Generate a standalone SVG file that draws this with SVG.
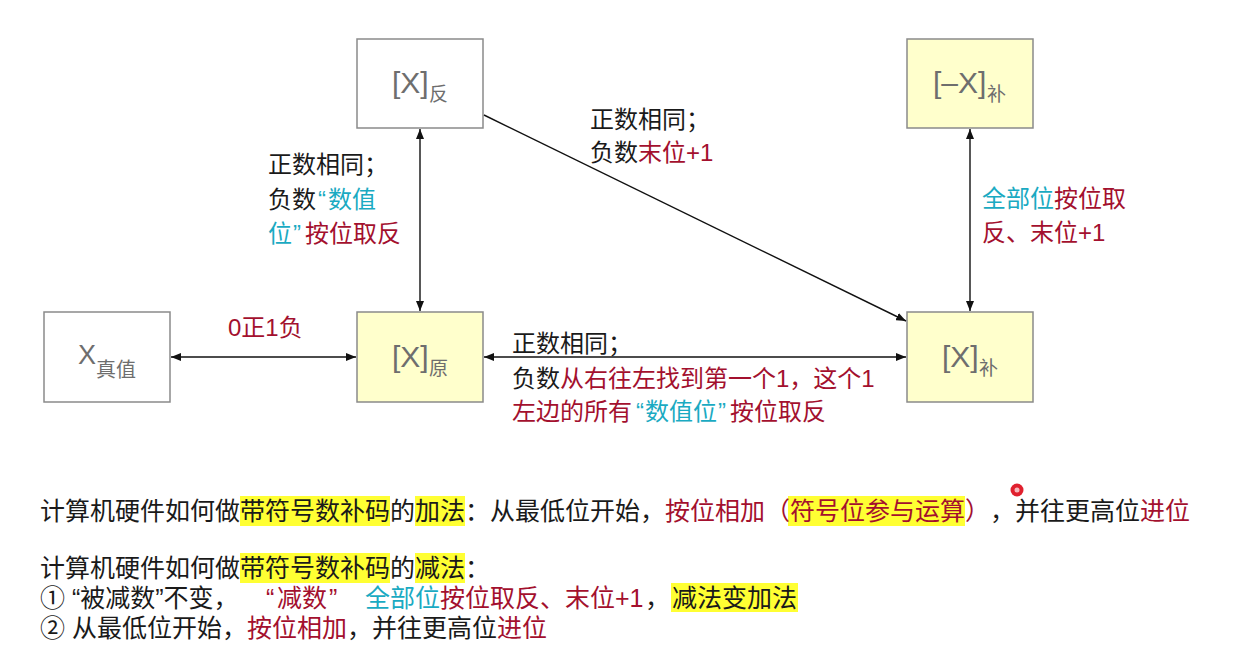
<svg xmlns="http://www.w3.org/2000/svg" width="1256" height="657" viewBox="0 0 1256 657">
<style>
.box{stroke:#8a8a8a;stroke-width:1.5}
.w{fill:#ffffff}
.y{fill:#ffffcc}
.bt{font-family:"Liberation Sans",Arial,sans-serif;font-size:30px;fill:#6e6e6e}
.sub{font-family:"Noto Sans CJK SC",sans-serif;font-size:19px;fill:#6e6e6e}
.lb{font-family:"Liberation Sans","Noto Sans CJK SC",sans-serif;font-size:24px;fill:#1a1a1a}
.tx{font-family:"Liberation Sans","Noto Sans CJK SC",sans-serif;font-size:25px;fill:#1a1a1a}
.cjk{font-family:"Noto Sans CJK SC",sans-serif}
.r{fill:#a3102e}
.c{fill:#1aaac2}
.hl{fill:#ffff33}
.ln{stroke:#111;stroke-width:1.4;fill:none}
</style>
<defs>
<marker id="ah" viewBox="0 0 10 8" refX="10" refY="4" markerWidth="10" markerHeight="8" markerUnits="userSpaceOnUse" orient="auto-start-reverse">
<path d="M0,0 L10,4 L0,8 z" fill="#111"/>
</marker>
</defs>
<rect width="1256" height="657" fill="#ffffff"/>

<g id="node-fan">
<rect class="box w" x="357" y="39" width="126" height="89"/>
<text class="bt" x="392" y="93">[X]</text><text class="sub" x="429" y="101">反</text>
</g>
<g id="node-negbu">
<rect class="box y" x="907" y="39" width="126" height="89"/>
<text class="bt" x="933" y="93">[–X]</text><text class="sub" x="987" y="101">补</text>
</g>
<g id="node-zhenzhi">
<rect class="box w" x="44" y="312" width="126" height="90"/>
<text class="bt" x="78" y="364" style="font-size:27px">X</text><text class="sub" x="96" y="377" style="font-size:20px">真值</text>
</g>
<g id="node-yuan">
<rect class="box y" x="357" y="312" width="126" height="90"/>
<text class="bt" x="392" y="367">[X]</text><text class="sub" x="429" y="375">原</text>
</g>
<g id="node-bu">
<rect class="box y" x="907" y="312" width="126" height="90"/>
<text class="bt" x="942" y="367">[X]</text><text class="sub" x="979" y="375">补</text>
</g>

<g id="connectors">
<path class="ln" d="M420,129 L420,311" marker-start="url(#ah)" marker-end="url(#ah)"/>
<path class="ln" d="M171,357 L356,357" marker-start="url(#ah)" marker-end="url(#ah)"/>
<path class="ln" d="M484,357 L906,357" marker-start="url(#ah)" marker-end="url(#ah)"/>
<path class="ln" d="M484,115 L906,321" marker-end="url(#ah)"/>
<path class="ln" d="M970,129 L970,311" marker-start="url(#ah)" marker-end="url(#ah)"/>
</g>

<g id="labels">
<text class="lb" x="268" y="173">正数相同；</text>
<text class="lb" y="208"><tspan x="268">负数</tspan><tspan class="c" x="318">“</tspan><tspan class="c" x="328">数值</tspan></text>
<text class="lb" y="242"><tspan class="c" x="268">位</tspan><tspan class="c" x="293">”</tspan><tspan class="r" x="305">按位取反</tspan></text>

<text class="lb" x="590" y="128">正数相同；</text>
<text class="lb" x="590" y="161">负数<tspan class="r">末位+1</tspan></text>

<text class="lb" x="982" y="207"><tspan class="c">全部位</tspan><tspan class="r">按位取</tspan></text>
<text class="lb r" x="982" y="241">反、末位+1</text>

<text class="lb r" x="228" y="336">0正1负</text>

<text class="lb" x="512" y="352">正数相同；</text>
<text class="lb" x="512" y="387">负数<tspan class="r">从右往左找到第一个1，这个1</tspan></text>
<text class="lb r" y="420"><tspan x="512">左边的所有</tspan><tspan class="c" x="636">“</tspan><tspan class="c" x="645">数值位</tspan><tspan class="c" x="718">”</tspan><tspan x="730">按位取反</tspan></text>
</g>

<g id="notes">
<rect class="hl" x="240" y="496" width="150" height="30"/>
<rect class="hl" x="415" y="496" width="50" height="30"/>
<rect class="hl" x="788" y="496" width="177" height="30"/>
<text class="tx" y="520"><tspan x="40">计算机硬件如何做带符号数补码的加法：从最低位开始，</tspan><tspan class="r" x="665">按位相加（</tspan><tspan class="r" x="790">符号位参与运算</tspan><tspan class="r cjk" x="965">）</tspan><tspan class="cjk" x="990">，</tspan><tspan x="1015">并往更高位</tspan><tspan class="r" x="1140">进位</tspan></text>

<rect class="hl" x="240" y="553" width="150" height="30"/>
<rect class="hl" x="415" y="553" width="50" height="30"/>
<text class="tx" x="40" y="577">计算机硬件如何做带符号数补码的减法：</text>

<rect class="hl" x="671" y="583" width="127" height="29"/>
<text class="tx" x="40" y="607">① “被减数”不变，</text>
<text class="tx r" y="607"><tspan x="266">“</tspan><tspan x="277">减数</tspan><tspan x="329">”</tspan></text>
<text class="tx c" x="365" y="607">全部位</text>
<text class="tx r" x="440" y="607">按位取反、末位+1</text>
<text class="tx" x="645" y="607">，</text>
<text class="tx" x="672" y="607">减法变加法</text>

<text class="tx" x="40" y="637">② 从最低位开始，<tspan class="r">按位相加</tspan>，并往更高位<tspan class="r">进位</tspan></text>
<circle cx="1017" cy="490" r="6.5" fill="#e0202e"/>
<circle cx="1017" cy="490" r="2.5" fill="#f6b8bc"/>
</g>
</svg>
